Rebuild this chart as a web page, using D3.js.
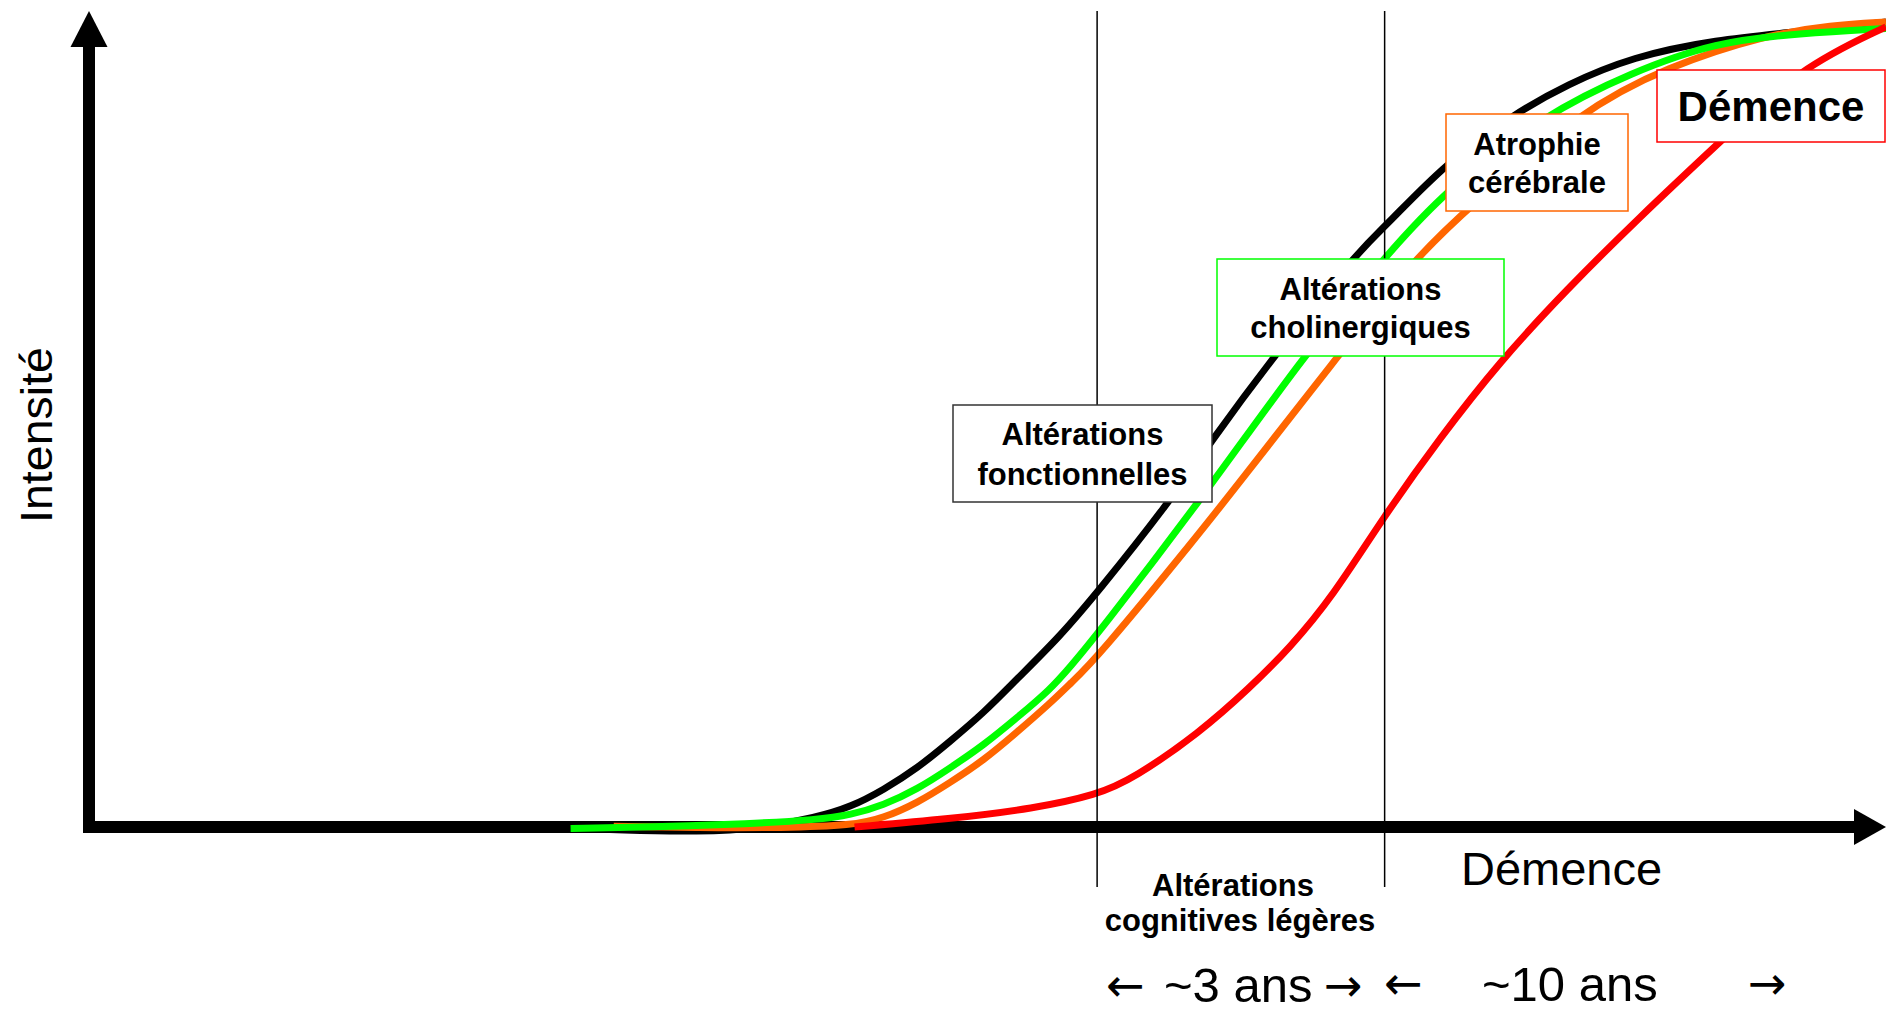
<!DOCTYPE html>
<meta charset="utf-8">
<style>

body {
  margin: 0;
  background: #fff;
}

.chart text {
  font-family: "Liberation Sans", Arial, sans-serif;
  fill: #000;
}

.chart .box text {
  font-weight: bold;
  text-anchor: middle;
}

.chart text.arrow {
  font-family: "DejaVu Sans", sans-serif;
}

</style>
<svg class="chart"></svg>
<script src="https://cdn.jsdelivr.net/npm/d3@7/dist/d3.min.js" charset="utf-8"></script>
<script>

// time (arbitrary units, 0-100) and intensity (0-100)
let fonctX = [26.8, 29.5, 34, 37.3, 40.5, 42.4, 44.2, 46.1, 47.9, 49.8, 51.6, 54, 56.1, 60, 62.5, 65.9, 70.7, 72.1, 75.5, 79.4, 82.2, 85.9, 90.5, 95.2, 100];
let fonctY = [-0.1, -0.4, -0.6, -0.2, 1.2, 2.5, 4.6, 7.3, 10.6, 14.2, 18.3, 23.6, 29.1, 40, 48.1, 58.4, 71.7, 74.5, 82.5, 88.7, 92.2, 95.7, 97.8, 98.8, 100];

let atrophX = [29.2, 34, 38.6, 42.5, 44.2, 46.1, 47.9, 49.8, 51.6, 53.5, 54.6, 56.1, 61.8, 63.7, 69.2, 73.8, 76.6, 83.1, 87.8, 93.3, 97, 100];
let atrophY = [0.1, -0.1, -0.1, 0.2, 1.1, 3, 5.5, 8.3, 11.7, 15.4, 17.8, 21, 36.5, 41.9, 57.6, 70.7, 76.6, 89.1, 94.4, 98.4, 99.6, 100];

let cholX = [26.8, 31.2, 36.8, 40.5, 42.4, 44.2, 46.1, 47.9, 49.8, 51.6, 53.5, 54.6, 56.1, 61.8, 67.4, 72.1, 75.5, 80.9, 85.9, 90.5, 95.2, 100];
let cholY = [-0.2, 0, 0.4, 0.9, 1.5, 2.7, 4.7, 7.3, 10.2, 13.5, 17.1, 19.9, 23.9, 40.4, 58, 70.8, 79.1, 88.4, 93.8, 97.5, 98.6, 99.2];

let demX = [42.6, 47.9, 52.6, 56.1, 58.1, 61.8, 64.6, 66.8, 69.2, 72, 75.2, 78.5, 82.2, 86.3, 90.7, 95.2, 100];
let demY = [0, 1.0, 2.3, 4.0, 6.0, 11.7, 17.3, 22.2, 28.6, 38.4, 48.4, 57.8, 66.7, 75.8, 85, 94.3, 99.4];

// stage boundaries on the time axis
let stageBounds = [56.1, 72.1];

let boxLabels = [
  ["Altérations", "fonctionnelles"],
  ["Altérations", "cholinergiques"],
  ["Atrophie", "cérébrale"],
  ["Démence"]
];
let stageLabels = ["Altérations", "cognitives légères", "Démence"];
let durationLabels = ["~3 ans", "~10 ans"];
let yLabel = "Intensité";

let width = 1886,
    height = 1013;

let x = d3.scaleLinear().domain([0, 100]).range([89, 1886]);
let y = d3.scaleLinear().domain([0, 100]).range([827, 22]);

let chart = d3.select(".chart")
    .attr("width", width)
    .attr("height", height);

// axes with arrow heads
let x0 = x(0), y0 = y(0);
chart.append("line")
    .attr("x1", x0).attr("x2", x0)
    .attr("y1", y0 + 6).attr("y2", 45)
    .attr("stroke", "#000").attr("stroke-width", 12);
chart.append("path")
    .attr("d", `M${x0 - 18.5},47 L${x0 + 18.5},47 L${x0},11 Z`)
    .attr("fill", "#000");
chart.append("line")
    .attr("x1", x0 - 6).attr("x2", 1856)
    .attr("y1", y0).attr("y2", y0)
    .attr("stroke", "#000").attr("stroke-width", 12);
chart.append("path")
    .attr("d", `M1854,${y0 - 18} L1854,${y0 + 18} L1886,${y0} Z`)
    .attr("fill", "#000");

// curves
let series = [
  {xs: fonctX, ys: fonctY, color: "#000000"},
  {xs: atrophX, ys: atrophY, color: "#FF6600"},
  {xs: cholX, ys: cholY, color: "#00FF00"},
  {xs: demX, ys: demY, color: "#FF0000"}
];

let line = d3.line()
    .x(d => x(d[0]))
    .y(d => y(d[1]))
    .curve(d3.curveBasis);

chart.selectAll("path.curve")
    .data(series)
  .enter().append("path")
    .attr("class", "curve")
    .attr("d", s => line(d3.zip(s.xs, s.ys)))
    .attr("fill", "none")
    .attr("stroke", s => s.color)
    .attr("stroke-width", 7);

// stage boundaries
chart.selectAll("line.stage")
    .data(stageBounds)
  .enter().append("line")
    .attr("class", "stage")
    .attr("x1", d => x(d)).attr("x2", d => x(d))
    .attr("y1", 11).attr("y2", 887)
    .attr("stroke", "#000").attr("stroke-width", 1.5);

// boxed labels
let boxLayout = [
  {x: 953, y: 405, w: 259, h: 97, stroke: "#333333", size: 31, dy: [40, 80]},
  {x: 1217, y: 259, w: 287, h: 97, stroke: "#00FF00", size: 31, dy: [41, 79]},
  {x: 1446, y: 114, w: 182, h: 97, stroke: "#FF6600", size: 31, dy: [41, 79]},
  {x: 1657, y: 70, w: 228, h: 72, stroke: "#FF0000", size: 42, dy: [51]}
];

let box = chart.selectAll("g.box")
    .data(boxLayout)
  .enter().append("g")
    .attr("class", "box")
    .attr("transform", d => "translate(" + d.x + "," + d.y + ")");

box.append("rect")
    .attr("width", d => d.w)
    .attr("height", d => d.h)
    .attr("fill", "#fff")
    .attr("stroke", d => d.stroke)
    .attr("stroke-width", 1.5);

box.each(function(d, i) {
  d3.select(this).selectAll("text")
      .data(boxLabels[i])
    .enter().append("text")
      .attr("x", d.w / 2)
      .attr("y", (t, j) => d.dy[j])
      .style("font-size", d.size + "px")
      .text(t => t);
});

// y label
chart.append("text")
    .attr("transform", "translate(52,435) rotate(-90)")
    .attr("text-anchor", "middle")
    .attr("textLength", 176)
    .attr("lengthAdjust", "spacingAndGlyphs")
    .style("font-size", "44px")
    .text(yLabel);

// stage labels under the axis
chart.append("text")
    .attr("x", 1233).attr("y", 896)
    .attr("text-anchor", "middle")
    .style("font-weight", "bold").style("font-size", "31px")
    .text(stageLabels[0]);
chart.append("text")
    .attr("x", 1240).attr("y", 931)
    .attr("text-anchor", "middle")
    .style("font-weight", "bold").style("font-size", "31px")
    .text(stageLabels[1]);
chart.append("text")
    .attr("x", 1461).attr("y", 885)
    .style("font-size", "47px")
    .text(stageLabels[2]);

// durations
let dur = [
  {t: "\u2190", x: 1106, y: 1001, arrow: true},
  {t: durationLabels[0], x: 1164, y: 1002},
  {t: "\u2192", x: 1324, y: 1001, arrow: true},
  {t: "\u2190", x: 1384, y: 999, arrow: true},
  {t: durationLabels[1], x: 1482, y: 1001},
  {t: "\u2192", x: 1748, y: 999, arrow: true}
];
chart.selectAll("text.dur")
    .data(dur)
  .enter().append("text")
    .attr("class", d => d.arrow ? "dur arrow" : "dur")
    .attr("x", d => d.x)
    .attr("y", d => d.y)
    .style("font-size", d => d.arrow ? "46px" : "49px")
    .text(d => d.t);

</script>
